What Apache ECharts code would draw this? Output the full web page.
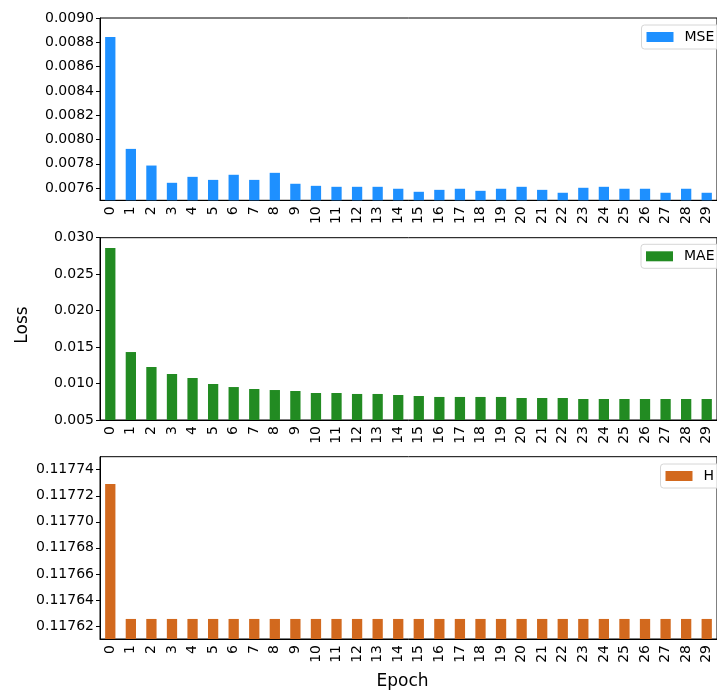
<!DOCTYPE html>
<html>
<head>
<meta charset="utf-8">
<script src="https://cdn.jsdelivr.net/npm/echarts@6/dist/echarts.min.js"></script>
<style>
  html, body { margin: 0; padding: 0; background: #fff; }
  #chart { width: 717px; height: 691px; }
</style>
</head>
<body>
<div id="chart"></div>
<script>
// Per-epoch training losses
const epochs = Array.from({ length: 30 }, (_, i) => String(i));

const mseLoss = [
  0.008844, 0.007923, 0.007786, 0.007644, 0.007693, 0.007668, 0.007710, 0.007668,
  0.007726, 0.007636, 0.007619, 0.007611, 0.007611, 0.007611, 0.007595, 0.007570,
  0.007586, 0.007595, 0.007578, 0.007595, 0.007611, 0.007586, 0.007562, 0.007603,
  0.007611, 0.007595, 0.007595, 0.007562, 0.007595, 0.007562
];

const maeLoss = [
  0.02858, 0.01432, 0.01227, 0.01131, 0.01076, 0.00994, 0.00952, 0.00925,
  0.00911, 0.00898, 0.00870, 0.00870, 0.00857, 0.00857, 0.00843, 0.00829,
  0.00816, 0.00816, 0.00816, 0.00816, 0.00802, 0.00802, 0.00802, 0.00788,
  0.00788, 0.00788, 0.00788, 0.00788, 0.00788, 0.00788
];

const hLoss = [
  0.117729, 0.1176254, 0.1176254, 0.1176254, 0.1176254, 0.1176254, 0.1176254, 0.1176254,
  0.1176254, 0.1176254, 0.1176254, 0.1176254, 0.1176254, 0.1176254, 0.1176254, 0.1176254,
  0.1176254, 0.1176254, 0.1176254, 0.1176254, 0.1176254, 0.1176254, 0.1176254, 0.1176254,
  0.1176254, 0.1176254, 0.1176254, 0.1176254, 0.1176254, 0.1176254
];

// Tick labels for each panel's value axis
const mseTicks = [0.0076, 0.0078, 0.0080, 0.0082, 0.0084, 0.0086, 0.0088, 0.0090];
const hTicks = [0.11762, 0.11764, 0.11766, 0.11768, 0.11770, 0.11772, 0.11774];

const FONT = 'DejaVu Sans';
const INK = '#000';

const panels = [
  { name: 'MSE', data: mseLoss, color: '#1E90FF', top: 18,    min: 0.0075,  max: 0.0090,  ticks: mseTicks, digits: 4 },
  { name: 'MAE', data: maeLoss, color: '#228B22', top: 237.7, min: 0.005,   max: 0.030,   interval: 0.005, digits: 3 },
  { name: 'H',   data: hLoss,   color: '#D2691E', top: 456.7, min: 0.11761, max: 0.11775, ticks: hTicks, digits: 5 }
];

const PLOT_LEFT = 100;
const PLOT_WIDTH = 621;
const PLOT_HEIGHT = 182.3;

const grid = panels.map(p => ({
  left: PLOT_LEFT, top: p.top, width: PLOT_WIDTH, height: PLOT_HEIGHT,
  show: true, borderColor: INK, borderWidth: 1, backgroundColor: 'transparent'
}));

const xAxis = panels.map((p, i) => ({
  type: 'category', gridIndex: i, data: epochs,
  axisLine: { lineStyle: { color: INK, width: 1 } },
  axisTick: { alignWithLabel: true, length: 4, lineStyle: { color: INK } },
  axisLabel: { rotate: 90, interval: 0, margin: 6, fontFamily: FONT, fontSize: 14, color: INK }
}));

const yAxis = panels.map((p, i) => {
  const fmt = v => Number(v).toFixed(p.digits);
  const ax = {
    type: 'value', gridIndex: i, min: p.min, max: p.max,
    splitLine: { show: false },
    axisLine: { show: true, lineStyle: { color: INK, width: 1 } },
    axisTick: { show: true, length: 4, lineStyle: { color: INK } },
    axisLabel: { margin: 6, fontFamily: FONT, fontSize: 14, color: INK, formatter: fmt }
  };
  if (p.ticks) {
    ax.axisTick.customValues = p.ticks;
    ax.axisLabel.customValues = p.ticks;
  } else {
    ax.interval = p.interval;
  }
  return ax;
});

const series = panels.map((p, i) => ({
  name: p.name, type: 'bar', xAxisIndex: i, yAxisIndex: i,
  data: p.data, barWidth: '50%', itemStyle: { color: p.color },
  animation: false
}));

// Legends sit in each panel's upper-right corner, running past the page edge
const legendLeft = [641.5, 641, 660.5];
const legendTop = [25, 244.3, 464];
const legend = panels.map((p, i) => ({
  data: [p.name], left: legendLeft[i], top: legendTop[i],
  orient: 'vertical', icon: 'rect', itemWidth: 27, itemHeight: 10,
  padding: [5, 24, 5, 5],
  backgroundColor: 'rgba(255,255,255,0.8)',
  borderColor: '#d6d6d6', borderWidth: 1, borderRadius: 3,
  textStyle: { fontFamily: FONT, fontSize: 14, color: INK, padding: [0, 0, 0, 6] },
  selectedMode: false
}));

const chart = echarts.init(document.getElementById('chart'), null, { renderer: 'canvas' });
chart.setOption({
  backgroundColor: '#fff',
  animation: false,
  grid, xAxis, yAxis, series, legend,
  graphic: [
    { type: 'text', rotation: Math.PI / 2, x: 23, y: 325,
      style: { text: 'Loss', fontFamily: FONT, fontSize: 17, fill: INK, textAlign: 'center', textVerticalAlign: 'middle' } },
    { type: 'text', x: 402.5, y: 682,
      style: { text: 'Epoch', fontFamily: FONT, fontSize: 17, fill: INK, textAlign: 'center', textVerticalAlign: 'middle' } }
  ]
});
</script>
</body>
</html>
